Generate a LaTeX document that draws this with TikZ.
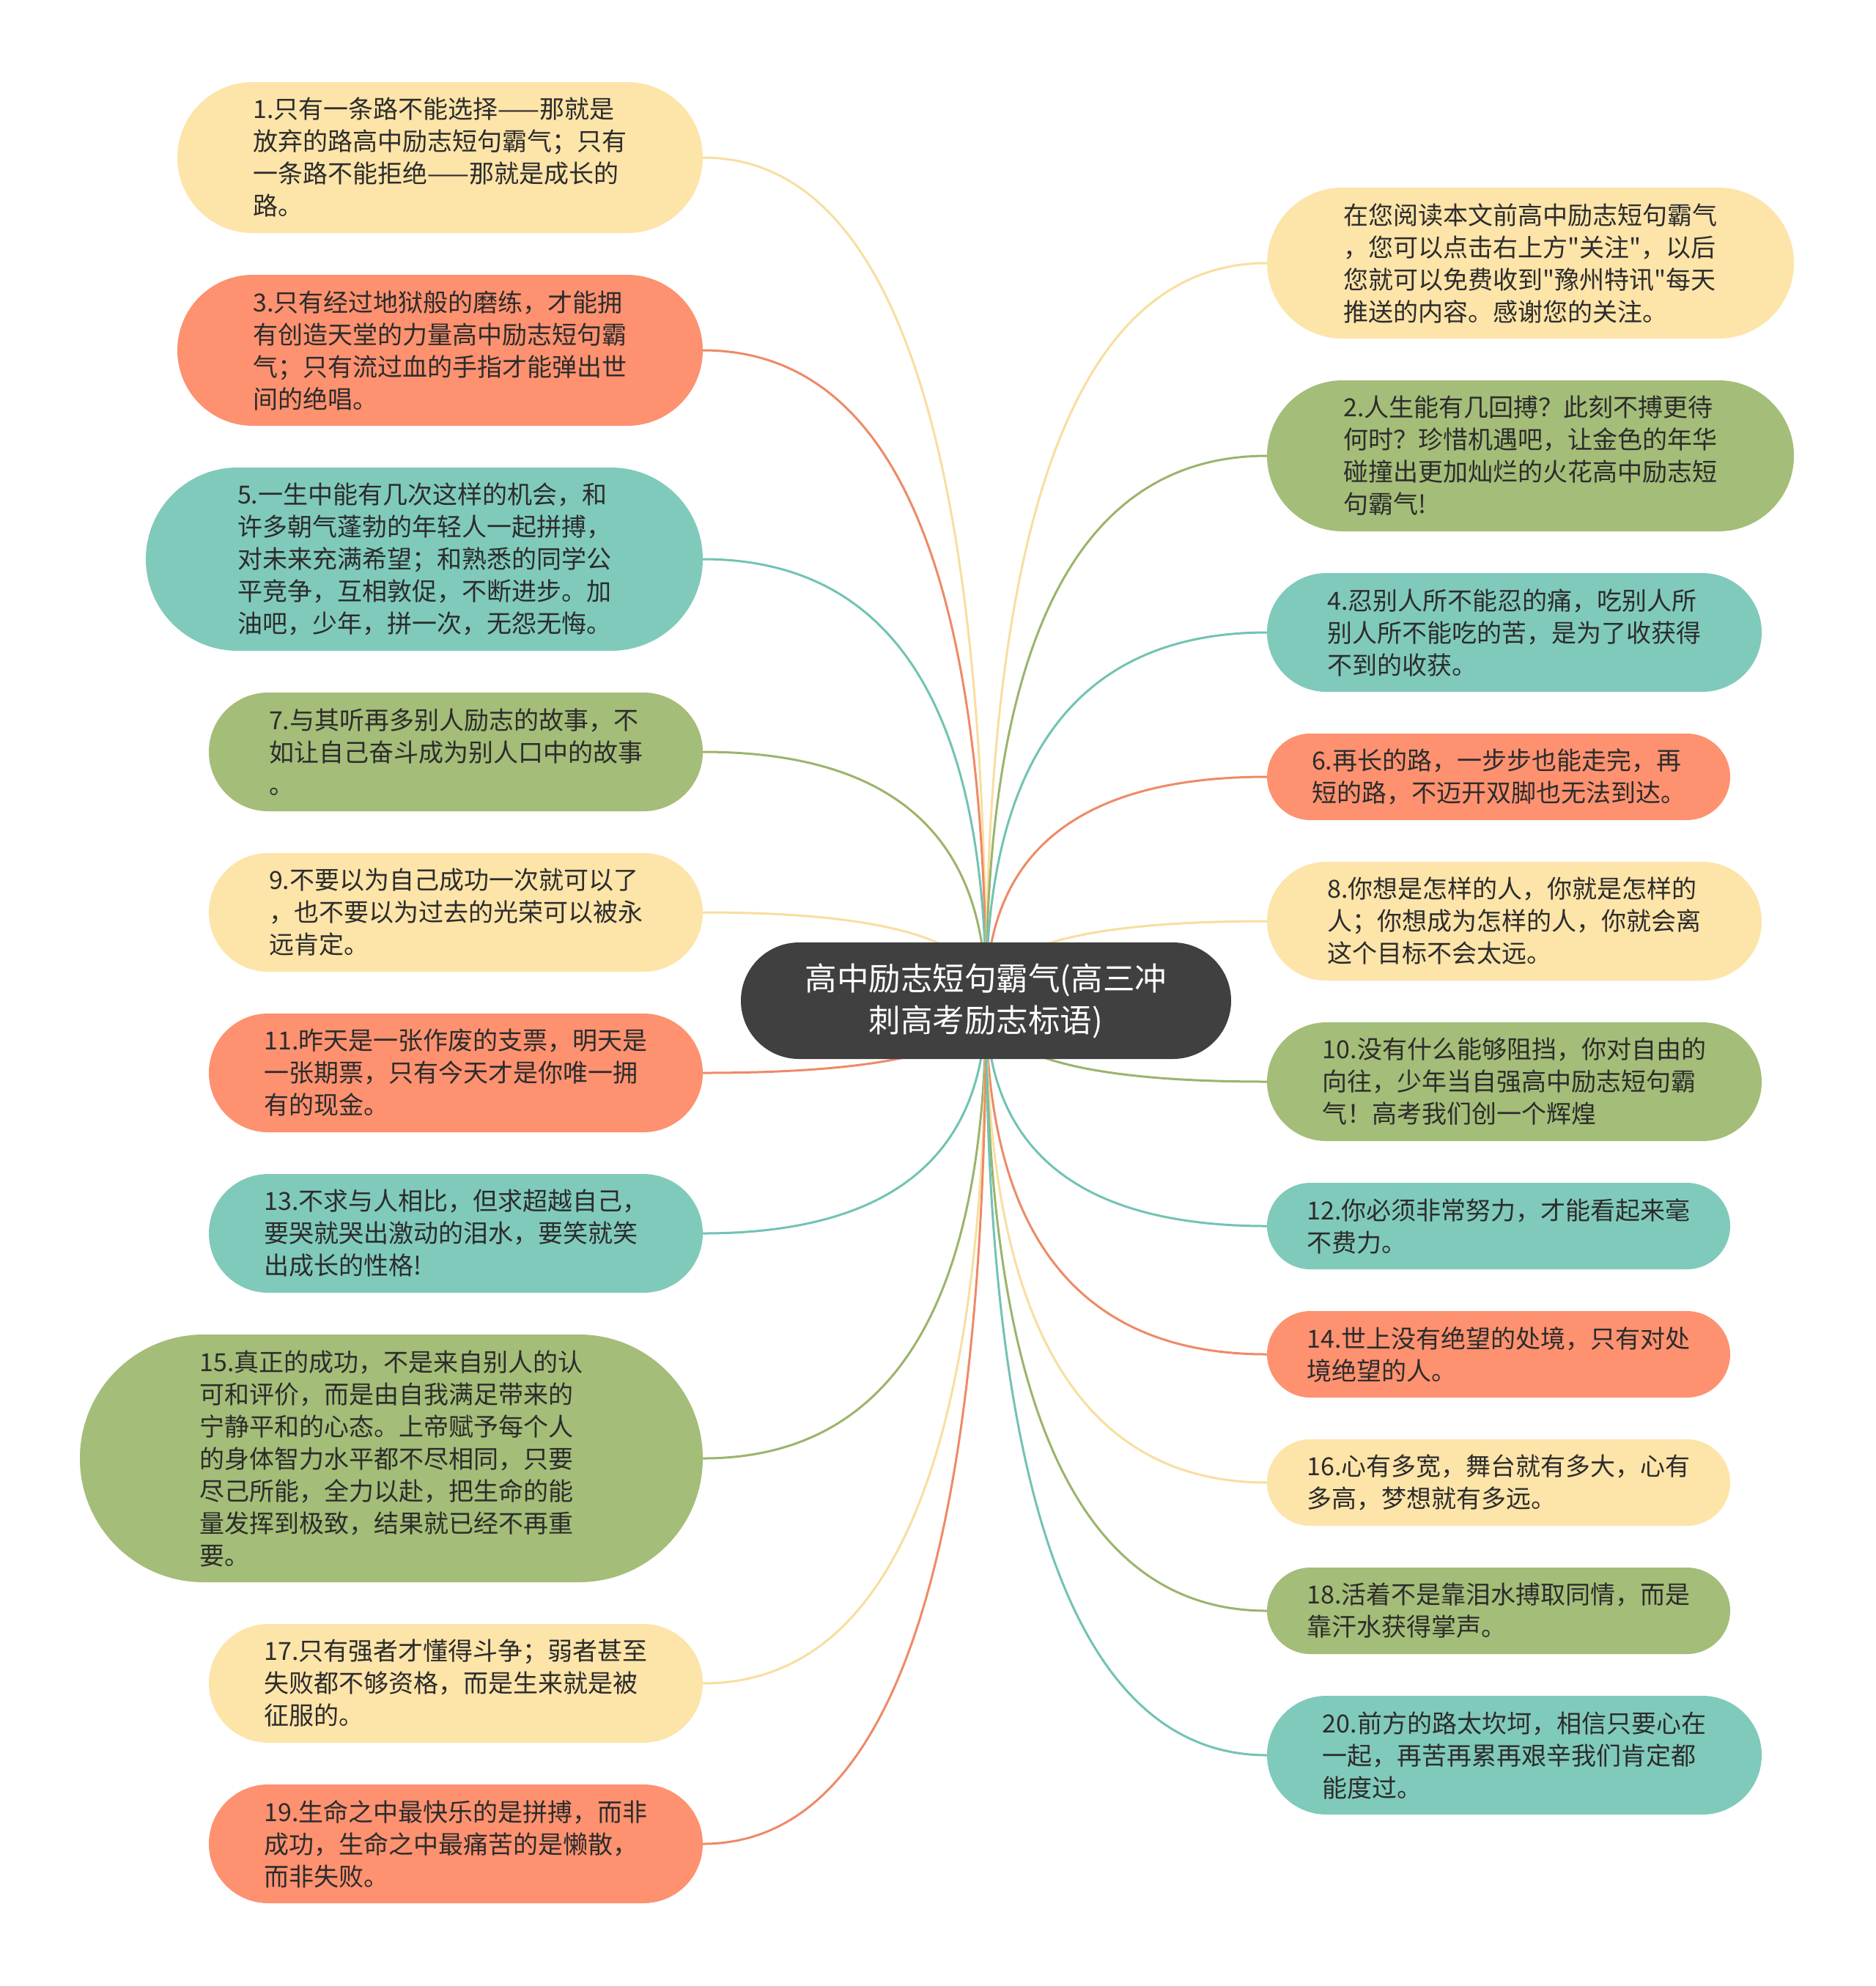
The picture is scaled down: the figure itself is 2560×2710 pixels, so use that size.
\documentclass[tikz,border=0pt]{standalone}
\usepackage{fontspec}
\newfontfamily\cjk{Noto Sans CJK SC}
\usetikzlibrary{calc,backgrounds}
\definecolor{cY}{HTML}{FDE4A9}
\definecolor{cS}{HTML}{FD9170}
\definecolor{cT}{HTML}{80CABB}
\definecolor{cG}{HTML}{A4BD78}
\definecolor{lY}{HTML}{F8DEA0}
\definecolor{lS}{HTML}{EE8A67}
\definecolor{lT}{HTML}{72C3B4}
\definecolor{lG}{HTML}{9BB46C}
\definecolor{rootc}{HTML}{404040}
\definecolor{txt}{HTML}{2C2C2C}
\tikzset{
  leafbox/.style={inner sep=0pt, align=left, text=txt, font=\cjk\fontsize{34}{44}\selectfont},
  rootbox/.style={fill=rootc, inner sep=0pt, align=center, text=white,
    font=\cjk\fontsize{43.5}{57}\selectfont, minimum width=669pt, minimum height=159pt, rounded corners=79.5pt},
  link/.style={line width=3pt},
}
\newcommand\conn[3]{%
  \coordinate (#1q) at (root.center |- #1.#2);
  \draw[link,#3] (root.center) .. controls ($(root.center)!0.6667!(#1q)$) and ($(#1.#2)!0.6667!(#1q)$) .. (#1.#2);
}
\begin{document}
\begin{tikzpicture}[x=1pt,y=-1pt]
\useasboundingbox (0,0) rectangle (2560,2710);
\node[rootbox] (root) at (1345.5,1365.5) {高中励志短句霸气(高三冲\\刺高考励志标语)};
% left
\node[leafbox, fill=cY, minimum width=717pt, minimum height=206pt, rounded corners=103pt] (n1) at (600.5,215) {1.只有一条路不能选择——那就是\\放弃的路高中励志短句霸气；只有\\一条路不能拒绝——那就是成长的\\路。};
\node[leafbox, fill=cS, minimum width=717pt, minimum height=206pt, rounded corners=103pt] (n3) at (600.5,478) {3.只有经过地狱般的磨练，才能拥\\有创造天堂的力量高中励志短句霸\\气；只有流过血的手指才能弹出世\\间的绝唱。};
\node[leafbox, fill=cT, minimum width=760pt, minimum height=250pt, rounded corners=125pt] (n5) at (579,763) {5.一生中能有几次这样的机会，和\\许多朝气蓬勃的年轻人一起拼搏，\\对未来充满希望；和熟悉的同学公\\平竞争，互相敦促，不断进步。加\\油吧，少年，拼一次，无怨无悔。};
\node[leafbox, fill=cG, minimum width=674pt, minimum height=162pt, rounded corners=81pt] (n7) at (622,1026) {7.与其听再多别人励志的故事，不\\如让自己奋斗成为别人口中的故事\\。};
\node[leafbox, fill=cY, minimum width=674pt, minimum height=162pt, rounded corners=81pt] (n9) at (622,1245) {9.不要以为自己成功一次就可以了\\，也不要以为过去的光荣可以被永\\远肯定。};
\node[leafbox, fill=cS, minimum width=674pt, minimum height=162pt, rounded corners=81pt] (n11) at (622,1464) {11.昨天是一张作废的支票，明天是\\一张期票，只有今天才是你唯一拥\\有的现金。};
\node[leafbox, fill=cT, minimum width=674pt, minimum height=162pt, rounded corners=81pt] (n13) at (622,1683) {13.不求与人相比，但求超越自己，\\要哭就哭出激动的泪水，要笑就笑\\出成长的性格!};
\node[leafbox, fill=cG, minimum width=850pt, minimum height=338pt, rounded corners=169pt] (n15) at (534,1990) {15.真正的成功，不是来自别人的认\\可和评价，而是由自我满足带来的\\宁静平和的心态。上帝赋予每个人\\的身体智力水平都不尽相同，只要\\尽己所能，全力以赴，把生命的能\\量发挥到极致，结果就已经不再重\\要。};
\node[leafbox, fill=cY, minimum width=674pt, minimum height=162pt, rounded corners=81pt] (n17) at (622,2297) {17.只有强者才懂得斗争；弱者甚至\\失败都不够资格，而是生来就是被\\征服的。};
\node[leafbox, fill=cS, minimum width=674pt, minimum height=162pt, rounded corners=81pt] (n19) at (622,2516) {19.生命之中最快乐的是拼搏，而非\\成功，生命之中最痛苦的是懒散，\\而非失败。};
% right
\node[leafbox, fill=cY, minimum width=719pt, minimum height=206pt, rounded corners=103pt] (n0) at (2088.5,359) {在您阅读本文前高中励志短句霸气\\，您可以点击右上方"关注"，以后\\您就可以免费收到"豫州特讯"每天\\推送的内容。感谢您的关注。};
\node[leafbox, fill=cG, minimum width=719pt, minimum height=206pt, rounded corners=103pt] (n2) at (2088.5,622) {2.人生能有几回搏？此刻不搏更待\\何时？珍惜机遇吧，让金色的年华\\碰撞出更加灿烂的火花高中励志短\\句霸气!};
\node[leafbox, fill=cT, minimum width=675pt, minimum height=162pt, rounded corners=81pt] (n4) at (2066.5,863) {4.忍别人所不能忍的痛，吃别人所\\别人所不能吃的苦，是为了收获得\\不到的收获。};
\node[leafbox, fill=cS, minimum width=632pt, minimum height=118pt, rounded corners=59pt] (n6) at (2045,1060) {6.再长的路，一步步也能走完，再\\短的路，不迈开双脚也无法到达。};
\node[leafbox, fill=cY, minimum width=675pt, minimum height=162pt, rounded corners=81pt] (n8) at (2066.5,1257) {8.你想是怎样的人，你就是怎样的\\人；你想成为怎样的人，你就会离\\这个目标不会太远。};
\node[leafbox, fill=cG, minimum width=675pt, minimum height=162pt, rounded corners=81pt] (n10) at (2066.5,1476) {10.没有什么能够阻挡，你对自由的\\向往，少年当自强高中励志短句霸\\气！高考我们创一个辉煌};
\node[leafbox, fill=cT, minimum width=632pt, minimum height=118pt, rounded corners=59pt] (n12) at (2045,1673) {12.你必须非常努力，才能看起来毫\\不费力。};
\node[leafbox, fill=cS, minimum width=632pt, minimum height=118pt, rounded corners=59pt] (n14) at (2045,1848) {14.世上没有绝望的处境，只有对处\\境绝望的人。};
\node[leafbox, fill=cY, minimum width=632pt, minimum height=118pt, rounded corners=59pt] (n16) at (2045,2023) {16.心有多宽，舞台就有多大，心有\\多高，梦想就有多远。};
\node[leafbox, fill=cG, minimum width=632pt, minimum height=118pt, rounded corners=59pt] (n18) at (2045,2198) {18.活着不是靠泪水搏取同情，而是\\靠汗水获得掌声。};
\node[leafbox, fill=cT, minimum width=675pt, minimum height=162pt, rounded corners=81pt] (n20) at (2066.5,2395) {20.前方的路太坎坷，相信只要心在\\一起，再苦再累再艰辛我们肯定都\\能度过。};
\begin{scope}[on background layer]
\fill[white] (0,0) rectangle (2560,2710);
\conn{n1}{east}{lY}
\conn{n3}{east}{lS}
\conn{n5}{east}{lT}
\conn{n7}{east}{lG}
\conn{n9}{east}{lY}
\conn{n11}{east}{lS}
\conn{n13}{east}{lT}
\conn{n15}{east}{lG}
\conn{n17}{east}{lY}
\conn{n19}{east}{lS}
\conn{n0}{west}{lY}
\conn{n2}{west}{lG}
\conn{n4}{west}{lT}
\conn{n6}{west}{lS}
\conn{n8}{west}{lY}
\conn{n10}{west}{lG}
\conn{n12}{west}{lT}
\conn{n14}{west}{lS}
\conn{n16}{west}{lY}
\conn{n18}{west}{lG}
\conn{n20}{west}{lT}
\end{scope}
\end{tikzpicture}
\end{document}
